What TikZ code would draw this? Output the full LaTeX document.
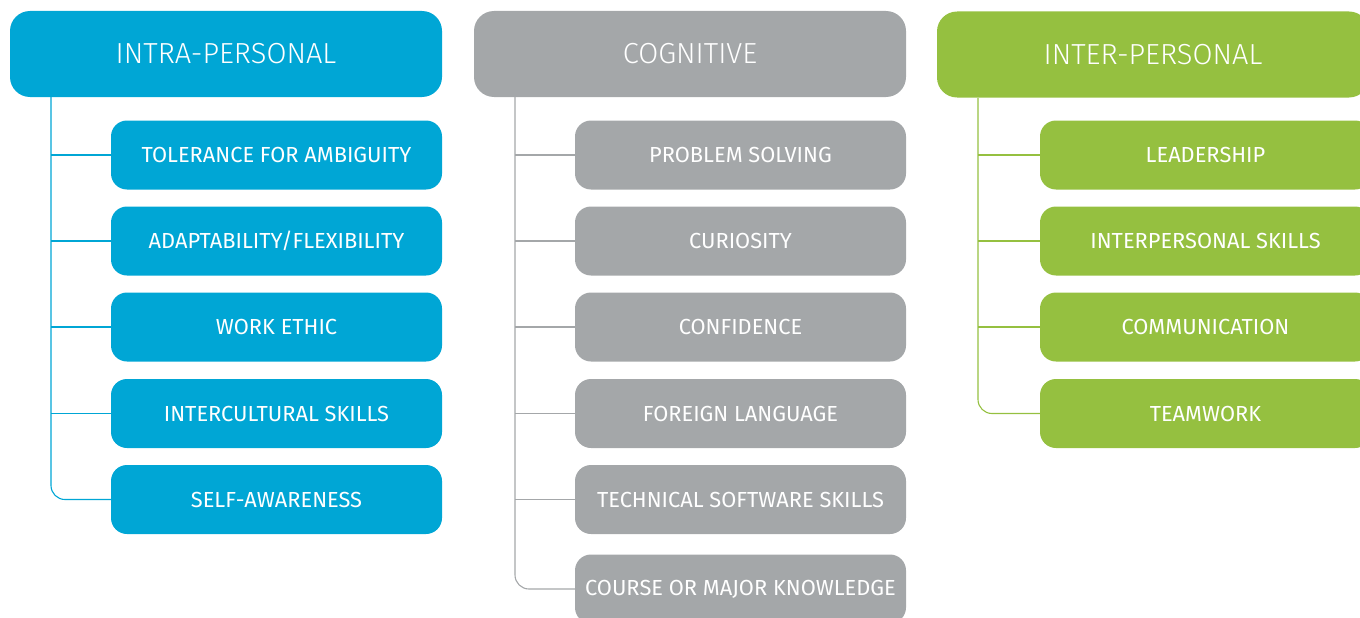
\documentclass[tikz,border=0pt]{standalone}
\usepackage{fontspec}
\setmainfont{Fira Sans}
\newfontfamily\headfont{Fira Sans Light}
\definecolor{cblue}{RGB}{0,166,213}
\definecolor{cgray}{RGB}{164,167,169}
\definecolor{cgreen}{RGB}{149,192,64}
\begin{document}
\begin{tikzpicture}[x=1pt,y=-1pt,
  head/.style={rounded corners=20pt, minimum width=432pt, minimum height=86pt, inner sep=0pt, text=white, font=\headfont\fontsize{29}{29}\selectfont},
  item/.style={rounded corners=16pt, minimum width=331pt, minimum height=69pt, inner sep=0pt, text=white, font=\fontsize{21.8}{21.8}\selectfont},
  link/.style={line width=1.1pt}]
\useasboundingbox (0,0) rectangle (1360,618);
\clip (0,0) rectangle (1360,618);
% column 1
\node[head, fill=cblue] (h1) at (226,54) {INTRA-PERSONAL};
\node[item, fill=cblue] (a1) at (276.5,155) {TOLERANCE FOR AMBIGUITY};
\node[item, fill=cblue] (a2) at (276.5,241) {ADAPTABILITY/FLEXIBILITY};
\node[item, fill=cblue] (a3) at (276.5,327) {WORK ETHIC};
\node[item, fill=cblue] (a4) at (276.5,413.5) {INTERCULTURAL SKILLS};
\node[item, fill=cblue] (a5) at (276.5,499.5) {SELF-AWARENESS};
\coordinate (v1) at (51,97);
\draw[link, cblue] (v1 |- a1.west) -- (a1.west);
\draw[link, cblue] (v1 |- a2.west) -- (a2.west);
\draw[link, cblue] (v1 |- a3.west) -- (a3.west);
\draw[link, cblue] (v1 |- a4.west) -- (a4.west);
\draw[link, cblue, rounded corners=14pt] (v1) |- (a5.west);
% column 2
\node[head, fill=cgray] (h2) at (690,54) {COGNITIVE};
\node[item, fill=cgray] (b1) at (740.5,155) {PROBLEM SOLVING};
\node[item, fill=cgray] (b2) at (740.5,241) {CURIOSITY};
\node[item, fill=cgray] (b3) at (740.5,327) {CONFIDENCE};
\node[item, fill=cgray] (b4) at (740.5,413.5) {FOREIGN LANGUAGE};
\node[item, fill=cgray] (b5) at (740.5,499.5) {TECHNICAL SOFTWARE SKILLS};
\node[item, fill=cgray] (b6) at (740.5,589) {COURSE OR MAJOR KNOWLEDGE};
\coordinate (v2) at (515,97);
\draw[link, cgray] (v2 |- b1.west) -- (b1.west);
\draw[link, cgray] (v2 |- b2.west) -- (b2.west);
\draw[link, cgray] (v2 |- b3.west) -- (b3.west);
\draw[link, cgray] (v2 |- b4.west) -- (b4.west);
\draw[link, cgray] (v2 |- b5.west) -- (b5.west);
\draw[link, cgray, rounded corners=14pt] (v2) |- (b6.west);
% column 3
\node[head, fill=cgreen] (h3) at (1153,54.5) {INTER-PERSONAL};
\node[item, fill=cgreen] (c1) at (1205.5,155) {LEADERSHIP};
\node[item, fill=cgreen] (c2) at (1205.5,241) {INTERPERSONAL SKILLS};
\node[item, fill=cgreen] (c3) at (1205.5,327) {COMMUNICATION};
\node[item, fill=cgreen] (c4) at (1205.5,413.5) {TEAMWORK};
\coordinate (v3) at (978,98);
\draw[link, cgreen] (v3 |- c1.west) -- (c1.west);
\draw[link, cgreen] (v3 |- c2.west) -- (c2.west);
\draw[link, cgreen] (v3 |- c3.west) -- (c3.west);
\draw[link, cgreen, rounded corners=14pt] (v3) |- (c4.west);
\end{tikzpicture}
\end{document}
